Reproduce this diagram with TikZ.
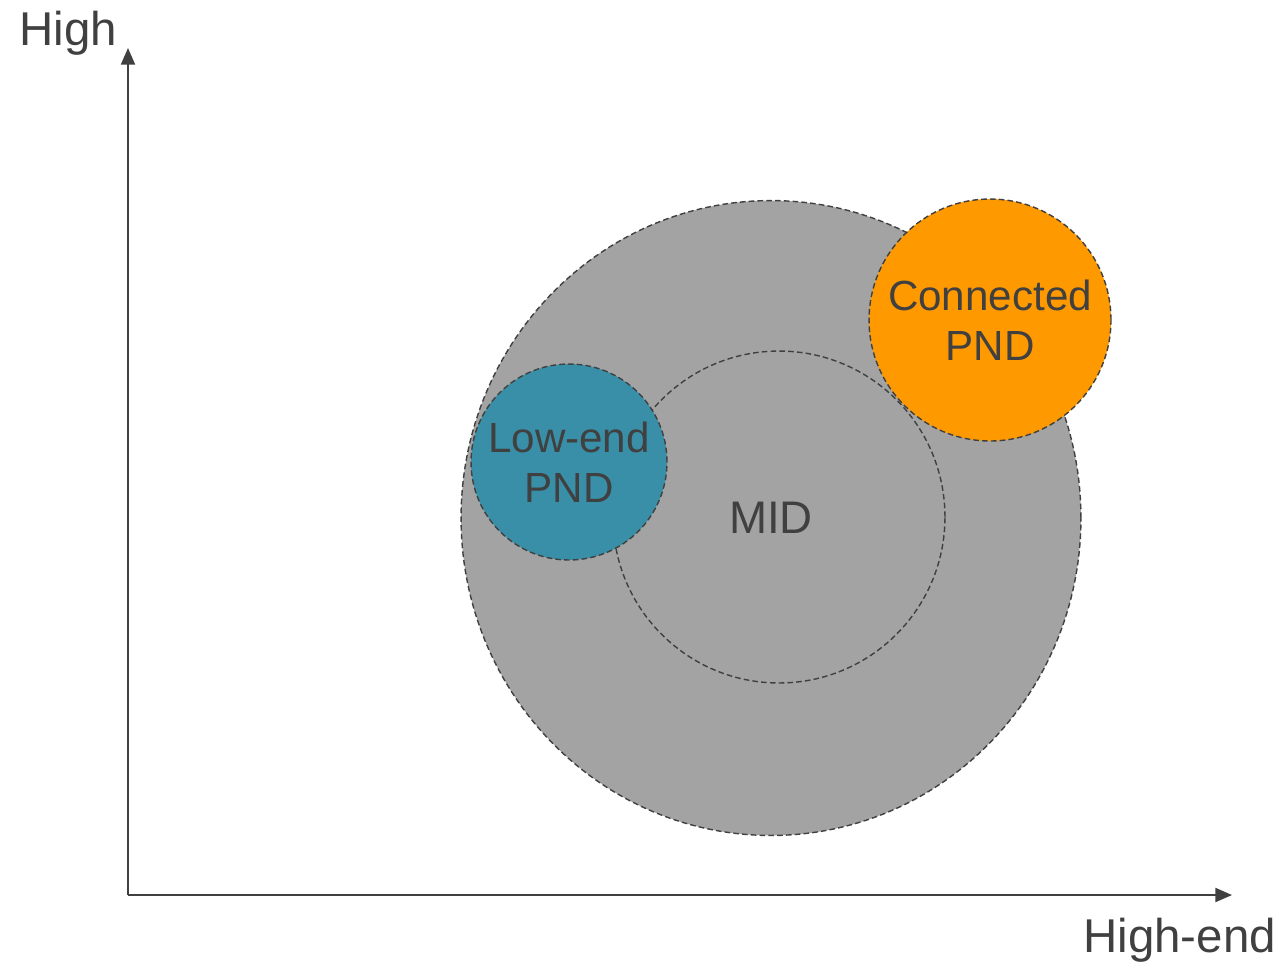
\documentclass[tikz,border=0pt]{standalone}
\usepackage{fontspec}
\setmainfont{Liberation Sans}
\usetikzlibrary{arrows.meta,shapes.geometric}
\definecolor{txtgray}{HTML}{404040}
\definecolor{midgray}{HTML}{A3A3A3}
\definecolor{pndteal}{HTML}{398FA7}
\definecolor{pndorange}{HTML}{FF9900}
\begin{document}
\begin{tikzpicture}[x=0.02cm, y=-0.02cm, text=txtgray,
        axis/.style={draw=txtgray, line width=1.1pt, -{Triangle[length=9.5pt,width=8pt]}},
        bubble/.style={circle, draw=txtgray, line width=0.8pt, dash pattern=on 3.2pt off 1.8pt, inner sep=0pt, align=center, font=\fontsize{24}{28.4}\selectfont},
        axislabel/.style={inner sep=0pt, anchor=base west, font=\fontsize{27}{32}\selectfont}]
        \useasboundingbox (0,0) rectangle (1280,968);

        % market area
        \node[bubble, ellipse, fill=midgray, minimum width=12.4cm, minimum height=12.7cm,
              font=\fontsize{26}{30}\selectfont] (mid) at (771,518) {MID};
        \node[bubble, minimum size=6.64cm] (core) at (779,517) {};
        \node[bubble, fill=pndteal, minimum size=3.92cm] (lowend) at (569,462) {Low-end\\PND};
        \node[bubble, fill=pndorange, minimum size=4.84cm] (connected) at (990,320) {Connected\\PND};

        % axes
        \coordinate (origin) at (128,895);
        \coordinate (ytop) at (128,48);
        \coordinate (xend) at (1232,895);
        \draw[axis] (origin) -- (ytop);
        \draw[axis] (origin) -- (xend);
        \node[axislabel] (ylabel) at (19,45) {High};
        \node[axislabel] (xlabel) at (1083,952) {High-end};
    \end{tikzpicture}
\end{document}
